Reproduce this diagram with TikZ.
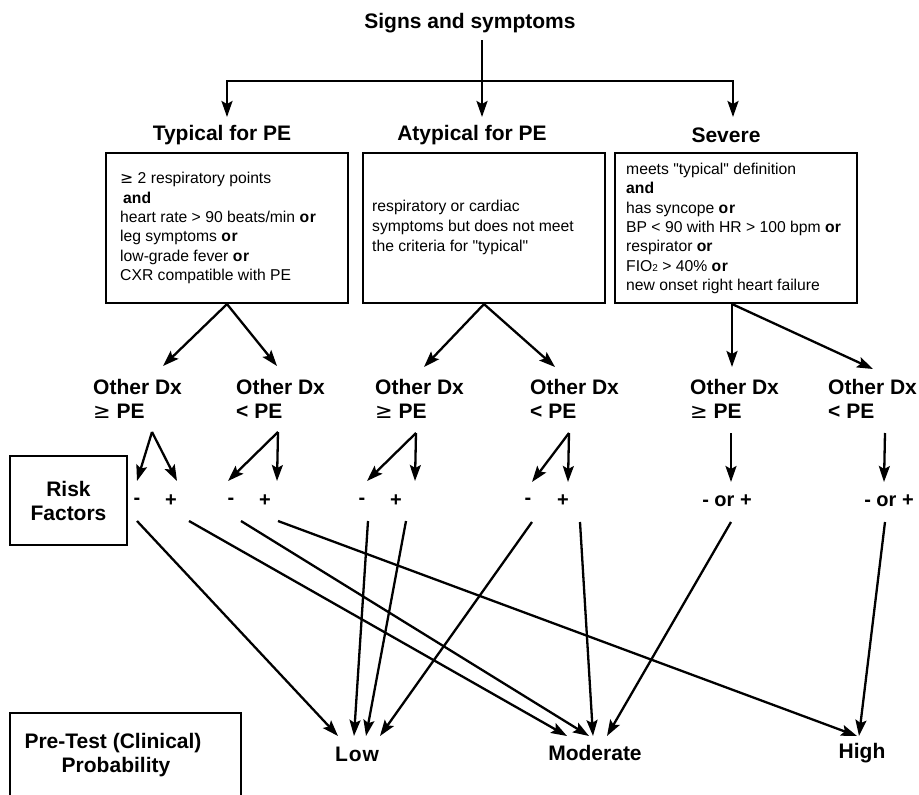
\documentclass[tikz,border=0pt]{standalone}
\usepackage{fontspec}
\setmainfont{Liberation Sans}
\newfontfamily\qf{Liberation Sans}
\newfontfamily\symfont{DejaVu Sans}
\usetikzlibrary{arrows.meta}
\newcommand{\orb}{\textbf{o\kern0.7pt r}}
\newcommand{\mygeq}{{\symfont\mdseries ≥}}
\begin{document}
\begin{tikzpicture}[x=1pt,y=-1pt,
  >={Stealth[length=16pt,width=11pt,inset=3pt]},
  lbl/.style={font=\fontsize{21}{24}\selectfont\bfseries, inner sep=0pt},
  sgn/.style={font=\fontsize{20}{24}\selectfont\bfseries, inner sep=0pt},
  boxnode/.style={draw, line width=2.2pt, minimum width=242pt, minimum height=150pt, inner sep=0pt},
  boxtxt/.style={font=\qf\fontsize{15.7}{19.3}\selectfont, align=left, inner sep=0pt, anchor=west},
  ln/.style={line width=2.3pt},
  arr/.style={line width=2.3pt, ->}]
\useasboundingbox (0,0) rectangle (919,795);

% title and top split
\node[lbl] (title) at (470,23) {Signs and symptoms};
\coordinate (ttop) at (482,40);
\coordinate (hl) at (227,81);
\coordinate (hr) at (733,81);
\coordinate (tip1) at (227,117);
\coordinate (tip2) at (482,117);
\coordinate (tip3) at (733,117);
\draw[ln,<->] (tip1) -- (hl) -- (hr) -- (tip3);
\draw[arr] (ttop) -- (tip2);

% headers
\node[lbl] (h1) at (222,135) {Typical for PE};
\node[lbl] (h2) at (472,135) {Atypical for PE};
\node[lbl] (h3) at (726,135) {Severe};

% boxes
\node[boxnode] (b1) at (227,228) {};
\node[boxnode] (b2) at (484,228) {};
\node[boxnode] (b3) at (736,228) {};

\node[boxtxt] (t1) at (120,228) {\mygeq{} 2 respiratory points\\
\hspace{3pt}\textbf{and}\\
heart rate > 90 beats/min \orb\\
leg symptoms \orb\\
low-grade fever \orb\\
CXR compatible with PE};

\node[boxtxt, font=\qf\fontsize{15.7}{20}\selectfont] (t2) at (372,227) {respiratory or cardiac\\
symptoms but does not meet\\
the criteria for "typical"};

\node[boxtxt] (t3) at (626,228.5) {meets "typical" definition\\
\textbf{and}\\
has syncope \orb\\
BP < 90 with HR > 100 bpm \textbf{or}\\
respirator \textbf{or}\\
FIO{\fontsize{10}{10}\selectfont 2} > 40\% \orb\\
new onset right heart failure};

% Other Dx labels
\node[lbl,align=left,anchor=west] (od1) at (93,399) {Other Dx\\\mygeq{} PE};
\node[lbl,align=left,anchor=west] (od2) at (236,399) {Other Dx\\< PE};
\node[lbl,align=left,anchor=west] (od3) at (375,399) {Other Dx\\\mygeq{} PE};
\node[lbl,align=left,anchor=west] (od4) at (530,399) {Other Dx\\< PE};
\node[lbl,align=left,anchor=west] (od5) at (690,399) {Other Dx\\\mygeq{} PE};
\node[lbl,align=left,anchor=west] (od6) at (828,399) {Other Dx\\< PE};

% box -> Other Dx arrows
\coordinate (b3s) at (732,304);
\coordinate (e1) at (163,366);
\coordinate (e2) at (277,366);
\coordinate (e3) at (424,367);
\coordinate (e4) at (555,367);
\coordinate (e5) at (732,367);
\coordinate (e6) at (873,369);
\draw[arr] (b1.south) -- (e1);
\draw[arr] (b1.south) -- (e2);
\draw[arr] (b2.south) -- (e3);
\draw[arr] (b2.south) -- (e4);
\draw[arr] (b3s) -- (e5);
\draw[arr] (b3s) -- (e6);

% Risk factors box
\node[draw, line width=2.2pt, minimum width=117pt, minimum height=89pt, inner sep=0pt,
      lbl, align=center] (rf) at (68.5,500.5) {Risk\\Factors};

% sign labels
\node[sgn] (m1) at (137,501) {-};
\node[sgn] (p1) at (171,501) {+};
\node[sgn] (m2) at (231,501) {-};
\node[sgn] (p2) at (265,501) {+};
\node[sgn] (m3) at (362,501) {-};
\node[sgn] (p3) at (396,501) {+};
\node[sgn] (m4) at (528,501) {-};
\node[sgn] (p4) at (563,501) {+};
\node[sgn] (q5) at (727,501) {- or +};
\node[sgn] (q6) at (889,501) {- or +};

% small arrows Other Dx -> signs
\coordinate (s1) at (152,432);
\coordinate (s2) at (278,432);
\coordinate (s3) at (416,433);
\coordinate (s4) at (569,433);
\coordinate (s5) at (731,433);
\coordinate (s6) at (885,433);
\coordinate (k1m) at (137,481);
\coordinate (k1p) at (177,481);
\coordinate (k2m) at (228,481);
\coordinate (k2p) at (277,481);
\coordinate (k3m) at (367,481);
\coordinate (k3p) at (415,481);
\coordinate (k4m) at (532,482);
\coordinate (k4p) at (568,482);
\coordinate (k5) at (731,482);
\coordinate (k6) at (884,482);
\draw[arr] (s1) -- (k1m);
\draw[arr] (s1) -- (k1p);
\draw[arr] (s2) -- (k2m);
\draw[arr] (s2) -- (k2p);
\draw[arr] (s3) -- (k3m);
\draw[arr] (s3) -- (k3p);
\draw[arr] (s4) -- (k4m);
\draw[arr] (s4) -- (k4p);
\draw[arr] (s5) -- (k5);
\draw[arr] (s6) -- (k6);

% bottom labels
\node[lbl] (low) at (357,754) {L\kern1pt o\kern1pt w};
\node[lbl] (mod) at (595,753) {Moderate};
\node[lbl] (high) at (862,753) {High};

% Pre-test box (open at bottom edge of picture)
\coordinate (pbl) at (10,795);
\coordinate (ptl) at (10,713);
\coordinate (ptr) at (241,713);
\coordinate (pbr) at (241,795);
\draw[line width=2.2pt] (pbl) -- (ptl) -- (ptr) -- (pbr);
\node[lbl, align=center] (pt) at (113,755) {Pre-Test (Clinical)\\\hspace*{6pt}Probability};

% long arrows
\coordinate (l1m) at (137,521);
\coordinate (l1p) at (189,521);
\coordinate (l2m) at (241,521);
\coordinate (l2p) at (278,521);
\coordinate (l3m) at (368,521);
\coordinate (l3p) at (406,521);
\coordinate (l4m) at (532,522);
\coordinate (l4p) at (580,522);
\coordinate (l5) at (731,522);
\coordinate (l6) at (885,522);
\coordinate (lowA) at (338,736);
\coordinate (lowB) at (354,736);
\coordinate (lowC) at (366,736);
\coordinate (lowD) at (380,736);
\coordinate (modA) at (567,736);
\coordinate (modB) at (589,736);
\coordinate (modC) at (593,736);
\coordinate (modD) at (607,736);
\coordinate (highA) at (857,736);
\coordinate (highB) at (859,736);
\draw[arr] (l1m) -- (lowA);
\draw[arr] (l1p) -- (modA);
\draw[arr] (l2m) -- (modB);
\draw[arr] (l2p) -- (highA);
\draw[arr] (l3m) -- (lowB);
\draw[arr] (l3p) -- (lowC);
\draw[arr] (l4m) -- (lowD);
\draw[arr] (l4p) -- (modC);
\draw[arr] (l5) -- (modD);
\draw[arr] (l6) -- (highB);
\end{tikzpicture}
\end{document}
